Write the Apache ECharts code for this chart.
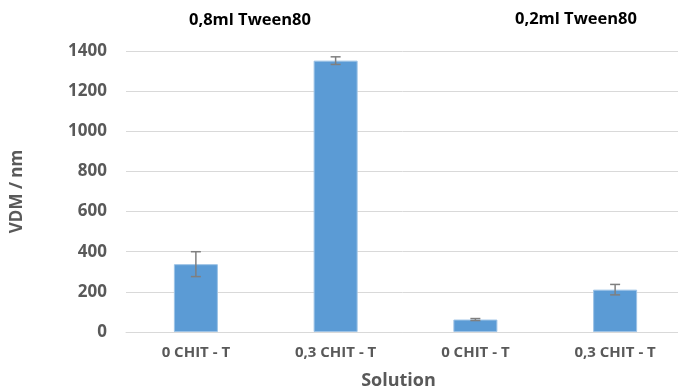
<!DOCTYPE html>
<html><head><meta charset="utf-8">
<script src="https://cdn.jsdelivr.net/npm/echarts@6/dist/echarts.min.js"></script>
<style>html,body{margin:0;padding:0;background:#fff}#c{width:678px;height:389px}</style>
</head><body><div id="c"></div>
<script>
var categories = ['0 CHIT - T', '0,3 CHIT - T', '0 CHIT - T', '0,3 CHIT - T'];
var values = [338, 1352, 62, 211];
var errors = [62, 19, 5, 26];
var groupLabels = ['0,8ml Tween80', '0,2ml Tween80'];
var yTicks = {min: 0, max: 1400, interval: 200};

var chart = echarts.init(document.getElementById('c'));
var gray = '#595959';
var font = '"Liberation Sans Narrow", "Open Sans", sans-serif';
chart.setOption({
  animation: false,
  title: [
    {text: groupLabels[0], left: 245, top: 7, textAlign: 'center',
     textStyle: {fontFamily: '"Open Sans", sans-serif', fontWeight: 'bold', fontSize: 16.5, color: '#000'}},
    {text: groupLabels[1], left: 571, top: 6, textAlign: 'center',
     textStyle: {fontFamily: '"Open Sans", sans-serif', fontWeight: 'bold', fontSize: 16.5, color: '#000'}}
  ],
  grid: {left: 126, right: -7, top: 51, bottom: 57, containLabel: false, outerBoundsMode: 'none'},
  xAxis: {
    type: 'category', data: categories,
    name: 'Solution', nameLocation: 'middle', nameGap: 40,
    nameTextStyle: {fontFamily: '"Open Sans", sans-serif', fontWeight: 'bold', fontSize: 18, color: gray, padding: [0, 14, 0, 0]},
    axisLine: {lineStyle: {color: '#d9d9d9'}},
    axisTick: {show: false},
    axisLabel: {fontFamily: font, fontWeight: 'bold', fontSize: 15, color: gray, margin: 13, interval: 0}
  },
  yAxis: {
    type: 'value', min: yTicks.min, max: yTicks.max, interval: yTicks.interval,
    name: 'VDM / nm', nameLocation: 'middle', nameGap: 100, nameRotate: 90,
    nameTextStyle: {fontFamily: '"Open Sans", sans-serif', fontWeight: 'bold', fontSize: 17, color: gray},
    axisLine: {show: false}, axisTick: {show: false},
    splitLine: {lineStyle: {color: '#d9d9d9', width: 1}},
    axisLabel: {fontFamily: '"Open Sans", sans-serif', fontWeight: 'bold', fontSize: 17, color: gray, margin: 19,
      formatter: function(v){ return String(v); }}
  },
  series: [
    {type: 'bar', data: values, barWidth: 44,
     itemStyle: {color: '#5B9BD5', borderColor: '#9dc3e6', borderWidth: 1}},
    {type: 'custom',
     data: values.map(function(v, i){ return [i, v - errors[i], v + errors[i]]; }),
     renderItem: function(params, api){
       var x = api.value(0);
       var lo = api.coord([x, api.value(1)]);
       var hi = api.coord([x, api.value(2)]);
       var hw = 5;
       var st = {stroke: '#7f7f7f', lineWidth: 1.5};
       return {type: 'group', children: [
         {type: 'line', shape: {x1: lo[0], y1: lo[1], x2: hi[0], y2: hi[1]}, style: st},
         {type: 'line', shape: {x1: lo[0]-hw, y1: lo[1], x2: lo[0]+hw, y2: lo[1]}, style: st},
         {type: 'line', shape: {x1: hi[0]-hw, y1: hi[1], x2: hi[0]+hw, y2: hi[1]}, style: st}
       ]};
     },
     z: 10}
  ]
});
</script></body></html>
